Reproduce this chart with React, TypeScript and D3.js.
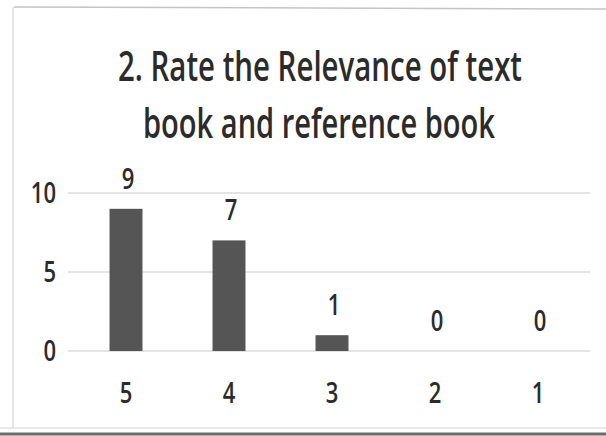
import React from "react";
import * as d3 from "d3";

const categories = ["5", "4", "3", "2", "1"];
const counts = [9, 7, 1, 0, 0];
const yTicks = [0, 5, 10];
const titleLines = ["2. Rate the Relevance of text", "book and reference book"];

const width = 606;
const height = 436;
const font = "'Open Sans', 'DejaVu Sans', sans-serif";
const stretch = 1.27; // the scan is taller than it is wide
const ink = "#2b2b2b";

export default function App() {
  const x = d3.scaleBand().domain(categories).range([74.5, 589.5]);
  const y = d3.scaleLinear().domain([0, 10]).range([351, 193]);
  const barW = x.bandwidth() * 0.32;

  const label = (tx: number, ty: number, s: string, size: number, anchor = "middle", len?: number) => (
    <text
      transform={`translate(${tx},${ty}) scale(1,${stretch})`}
      fontSize={size}
      fontFamily={font}
      fontWeight={600}
      fill={ink}
      textAnchor={anchor}
      textLength={len}
      lengthAdjust={len ? "spacingAndGlyphs" : undefined}
    >
      {s}
    </text>
  );

  return (
    <svg width={width} height={height} style={{ position: "absolute", left: 0, top: 0, background: "#fff" }}>
      {/* frame of the scanned chart */}
      <line x1={14} x2={606} y1={7} y2={9} stroke="#c4c4c4" strokeWidth={1.5} />
      <line x1={13} x2={13} y1={7} y2={428} stroke="#d6d6d6" strokeWidth={1.2} />
      <line x1={0} x2={606} y1={428} y2={428} stroke="#d0d0d0" strokeWidth={1} />
      <line x1={0} x2={606} y1={434} y2={434} stroke="#6a6a6a" strokeWidth={3} />

      {titleLines.map((t, i) =>
        label(i === 0 ? 118 : 143, i === 0 ? 81 : 138, t, 32, "start", i === 0 ? 404 : 352)
      )}

      {yTicks.map((t) => (
        <g key={t}>
          <line x1={68} x2={590} y1={y(t)} y2={y(t)} stroke="#c9c9c9" strokeWidth={1} />
          {label(56, y(t) + 10, String(t), 22, "end")}
        </g>
      ))}

      {categories.map((c, i) => {
        const cx = (x(c) as number) + x.bandwidth() / 2;
        return (
          <g key={c}>
            {counts[i] > 0 && (
              <rect x={cx - barW / 2} y={y(counts[i])} width={barW} height={y(0) - y(counts[i])} fill="#555555" />
            )}
            {label(cx + 2, y(counts[i]) - 20, String(counts[i]), 22)}
            {label(cx, 403, c, 22)}
          </g>
        );
      })}
    </svg>
  );
}
